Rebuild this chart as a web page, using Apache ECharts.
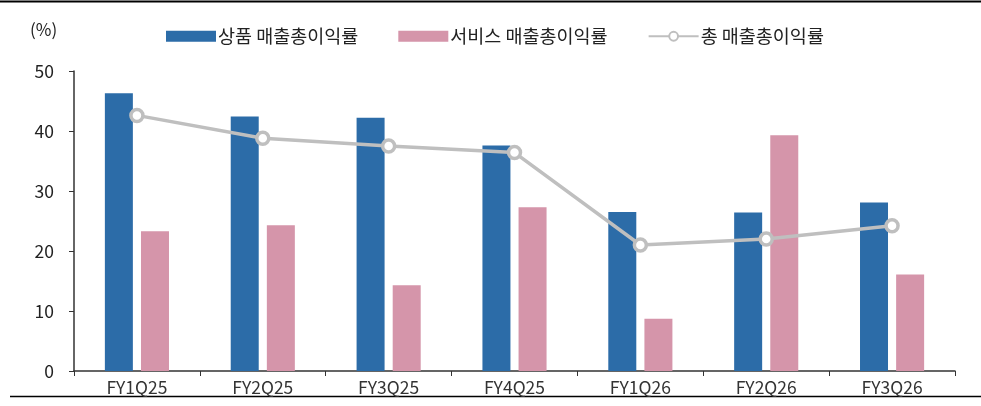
<!DOCTYPE html>
<html><head><meta charset="utf-8">
<script src="https://cdn.jsdelivr.net/npm/echarts@6/dist/echarts.min.js"></script>
<style>html,body{margin:0;padding:0;background:#fff}#c{width:981px;height:406px}</style>
</head><body><div id="c"></div>
<script>
var categories = ['FY1Q25','FY2Q25','FY3Q25','FY4Q25','FY1Q26','FY2Q26','FY3Q26'];
var productMargin = [46.3, 42.4, 42.2, 37.6, 26.5, 26.4, 28.1];
var serviceMargin = [23.3, 24.3, 14.3, 27.3, 8.7, 39.3, 16.1];
var totalMargin = [42.6, 38.8, 37.5, 36.4, 21.0, 22.0, 24.2];
var seriesNames = ['상품 매출총이익률', '서비스 매출총이익률', '총 매출총이익률'];
var yTicks = [0, 10, 20, 30, 40, 50];

var font = "'Noto Sans CJK KR', 'Noto Sans', sans-serif";
var chart = echarts.init(document.getElementById('c'), null, {renderer: 'canvas'});
chart.setOption({
  animation: false,
  textStyle: {fontFamily: font},
  graphic: [
    {type: 'line', shape: {x1: 0, y1: 1.5, x2: 981, y2: 1.5}, style: {stroke: '#000', lineWidth: 2}},
    {type: 'line', shape: {x1: 10, y1: 396.5, x2: 981, y2: 396.5}, style: {stroke: '#000', lineWidth: 1.5}},
    {type: 'text', left: 30, top: 21, style: {text: '(%)', font: '17px ' + font, fill: '#222'}}
  ],
  legend: {
    top: 22, left: 161,
    itemWidth: 50, itemHeight: 11, itemGap: 40,
    textStyle: {fontSize: 18.5, color: '#222', fontFamily: font, padding: [0, 0, 0, -3]},
    data: [
      {name: seriesNames[0], icon: 'rect'},
      {name: seriesNames[1], icon: 'rect'},
      {name: seriesNames[2]}
    ]
  },
  grid: {left: 74, right: 26, top: 71, bottom: 35},
  xAxis: {
    type: 'category', data: categories,
    axisLine: {lineStyle: {color: '#333', width: 1.5}},
    axisTick: {show: true, length: 5, lineStyle: {color: '#333'}},
    axisLabel: {fontSize: 17.5, color: '#333', margin: 8, fontFamily: font}
  },
  yAxis: {
    type: 'value', min: yTicks[0], max: yTicks[yTicks.length - 1], interval: 10,
    axisLine: {show: true, lineStyle: {color: '#333', width: 1.5}},
    axisTick: {show: true, length: 5, inside: false, lineStyle: {color: '#333'}},
    splitLine: {show: false},
    axisLabel: {fontSize: 17.5, color: '#222', margin: 20, fontFamily: font}
  },
  series: [
    {name: seriesNames[0], type: 'bar', data: productMargin, barWidth: 28, barGap: '29%',
     itemStyle: {color: '#2c6ca8'}},
    {name: seriesNames[1], type: 'bar', data: serviceMargin, barWidth: 28,
     itemStyle: {color: '#d595aa'}},
    {name: seriesNames[2], type: 'line', data: totalMargin,
     symbol: 'circle', symbolSize: 12, z: 5,
     lineStyle: {color: '#bfbfbf', width: 3.5},
     itemStyle: {color: '#fff', borderColor: '#bfbfbf', borderWidth: 3.5}}
  ]
});
</script></body></html>
